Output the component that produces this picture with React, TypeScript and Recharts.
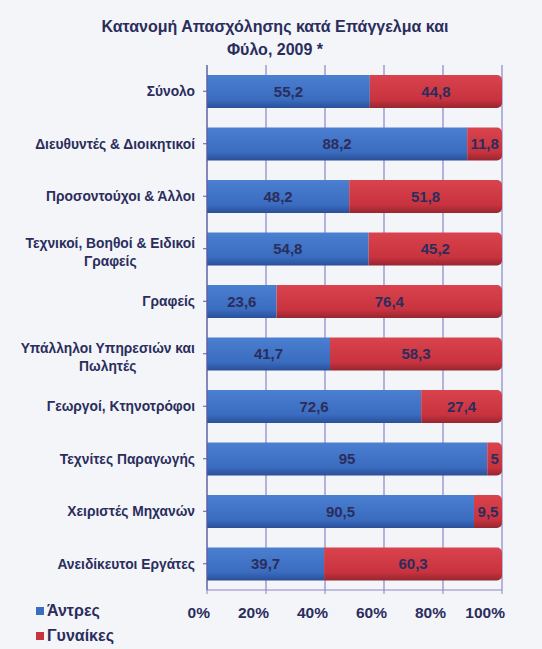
import React from "react";
import { BarChart, Bar, XAxis, YAxis, CartesianGrid, LabelList } from "recharts";

const title = ["Κατανομή Απασχόλησης κατά Επάγγελμα και", "Φύλο, 2009 *"];
const categories = [
  "Σύνολο",
  "Διευθυντές & Διοικητικοί",
  "Προσοντούχοι & Άλλοι",
  "Τεχνικοί, Βοηθοί & Ειδικοί\nΓραφείς",
  "Γραφείς",
  "Υπάλληλοι Υπηρεσιών και\nΠωλητές",
  "Γεωργοί, Κτηνοτρόφοι",
  "Τεχνίτες Παραγωγής",
  "Χειριστές Μηχανών",
  "Ανειδίκευτοι Εργάτες",
];
const men = [55.2, 88.2, 48.2, 54.8, 23.6, 41.7, 72.6, 95, 90.5, 39.7];
const women = [44.8, 11.8, 51.8, 45.2, 76.4, 58.3, 27.4, 5, 9.5, 60.3];
const seriesNames = ["Άντρες", "Γυναίκες"];
const seriesColors = ["#3a6cc0", "#c8333f"];
const xTicks = [0, 20, 40, 60, 80, 100];

const data = categories.map((c, i) => ({ name: c, men: men[i], women: women[i] }));

const TEXT = "#2b2d5c";
const GRID = "#8a86c8";
const FONT = "'Liberation Sans', Arial, sans-serif";
const YFONT_SIZE = 13.8;

const fmt = (v: any) => String(v).replace(".", ",");

let ctx: CanvasRenderingContext2D | null = null;
const measure = (s: string) => {
  if (typeof document === "undefined") return s.length * 7;
  if (!ctx) ctx = document.createElement("canvas").getContext("2d");
  if (!ctx) return s.length * 7;
  ctx.font = `bold ${YFONT_SIZE}px 'Liberation Sans', Arial, sans-serif`;
  return ctx.measureText(s).width;
};

const YTick = (props: any) => {
  const { x, y, payload } = props;
  const lines = String(payload.value).split("\n");
  const lh = 18;
  const start = -((lines.length - 1) * lh) / 2 + (lines.length > 1 ? 3 : 0);
  const right = x - 6;
  if (lines.length === 1) {
    return (
      <text x={right} y={y} dy="0.36em" textAnchor="end" fill={TEXT} fontFamily={FONT} fontWeight="bold" fontSize={YFONT_SIZE}>
        {lines[0]}
      </text>
    );
  }
  const w = Math.max(...lines.map(measure));
  const cx = right - w / 2;
  return (
    <text x={cx} y={y} textAnchor="middle" fill={TEXT} fontFamily={FONT} fontWeight="bold" fontSize={YFONT_SIZE}>
      {lines.map((l, i) => (
        <tspan key={i} x={cx} y={y + start + i * lh} dy="0.36em">{l}</tspan>
      ))}
    </text>
  );
};

const XTick = (props: any) => {
  const { x, y, payload } = props;
  return (
    <text x={x + 3} y={y + 22} textAnchor="end" fill={TEXT} fontFamily={FONT} fontWeight="bold" fontSize={15.5}>
      {payload.value + "%"}
    </text>
  );
};

export default function App() {
  return (
    <div style={{ position: "absolute", left: 0, top: 0, width: 542, height: 649, background: "#f3f5f9", overflow: "hidden" }}>
      <div
        style={{
          position: "absolute",
          left: 0,
          top: 15,
          width: 550,
          textAlign: "center",
          fontFamily: FONT,
          fontWeight: "bold",
          fontSize: 16,
          lineHeight: "23px",
          color: TEXT,
        }}
      >
        {title.map((t) => (
          <div key={t}>{t}</div>
        ))}
      </div>
      <div
        style={{
          position: "absolute",
          left: 36,
          top: 598,
          fontFamily: FONT,
          fontWeight: "bold",
          fontSize: 16,
          color: TEXT,
          lineHeight: "25px",
        }}
      >
        {seriesNames.map((n, i) => (
          <div key={n} style={{ display: "flex", alignItems: "center" }}>
            <span style={{ display: "inline-block", width: 8, height: 8, background: seriesColors[i], marginRight: 3 }} />
            <span>{n}</span>
          </div>
        ))}
      </div>
      <BarChart
        width={542}
        height={649}
        data={data}
        layout="vertical"
        margin={{ top: 65, right: 40, bottom: 0, left: 0 }}
        barSize={33}
      >
        <defs>
          <linearGradient id="gBlue" x1="0" y1="0" x2="0" y2="1">
            <stop offset="0" stopColor="#4b7fd0" />
            <stop offset="0.75" stopColor="#3a6cc0" />
            <stop offset="1" stopColor="#2a4f98" />
          </linearGradient>
          <linearGradient id="gRed" x1="0" y1="0" x2="0" y2="1">
            <stop offset="0" stopColor="#d8434d" />
            <stop offset="0.75" stopColor="#c8333f" />
            <stop offset="1" stopColor="#962630" />
          </linearGradient>
        </defs>
        <CartesianGrid horizontal={false} stroke={GRID} strokeWidth={1.2} />
        <XAxis
          type="number"
          domain={[0, 100]}
          ticks={xTicks}
          height={59}
          tick={<XTick />}
          tickSize={4}
          axisLine={{ stroke: GRID }}
          tickLine={{ stroke: GRID }}
          interval={0}
        />
        <XAxis
          xAxisId="top"
          orientation="top"
          type="number"
          domain={[0, 100]}
          height={0}
          tick={false}
          tickLine={false}
          axisLine={{ stroke: GRID, strokeWidth: 1.2 }}
        />
        <YAxis
          type="category"
          dataKey="name"
          width={207}
          tick={<YTick />}
          tickSize={4}
          axisLine={{ stroke: "#5a5a9a" }}
          tickLine={{ stroke: "#5a5a9a" }}
          interval={0}
        />
        <Bar dataKey="men" stackId="a" fill="url(#gBlue)" isAnimationActive={false} name={seriesNames[0]}>
          <LabelList dataKey="men" position="center" formatter={fmt} fill={TEXT} fontFamily={FONT} fontWeight="bold" fontSize={15} />
        </Bar>
        <Bar dataKey="women" stackId="a" fill="url(#gRed)" radius={[0, 5, 5, 0]} isAnimationActive={false} name={seriesNames[1]}>
          <LabelList dataKey="women" position="center" formatter={fmt} fill={TEXT} fontFamily={FONT} fontWeight="bold" fontSize={15} />
        </Bar>
      </BarChart>
    </div>
  );
}
